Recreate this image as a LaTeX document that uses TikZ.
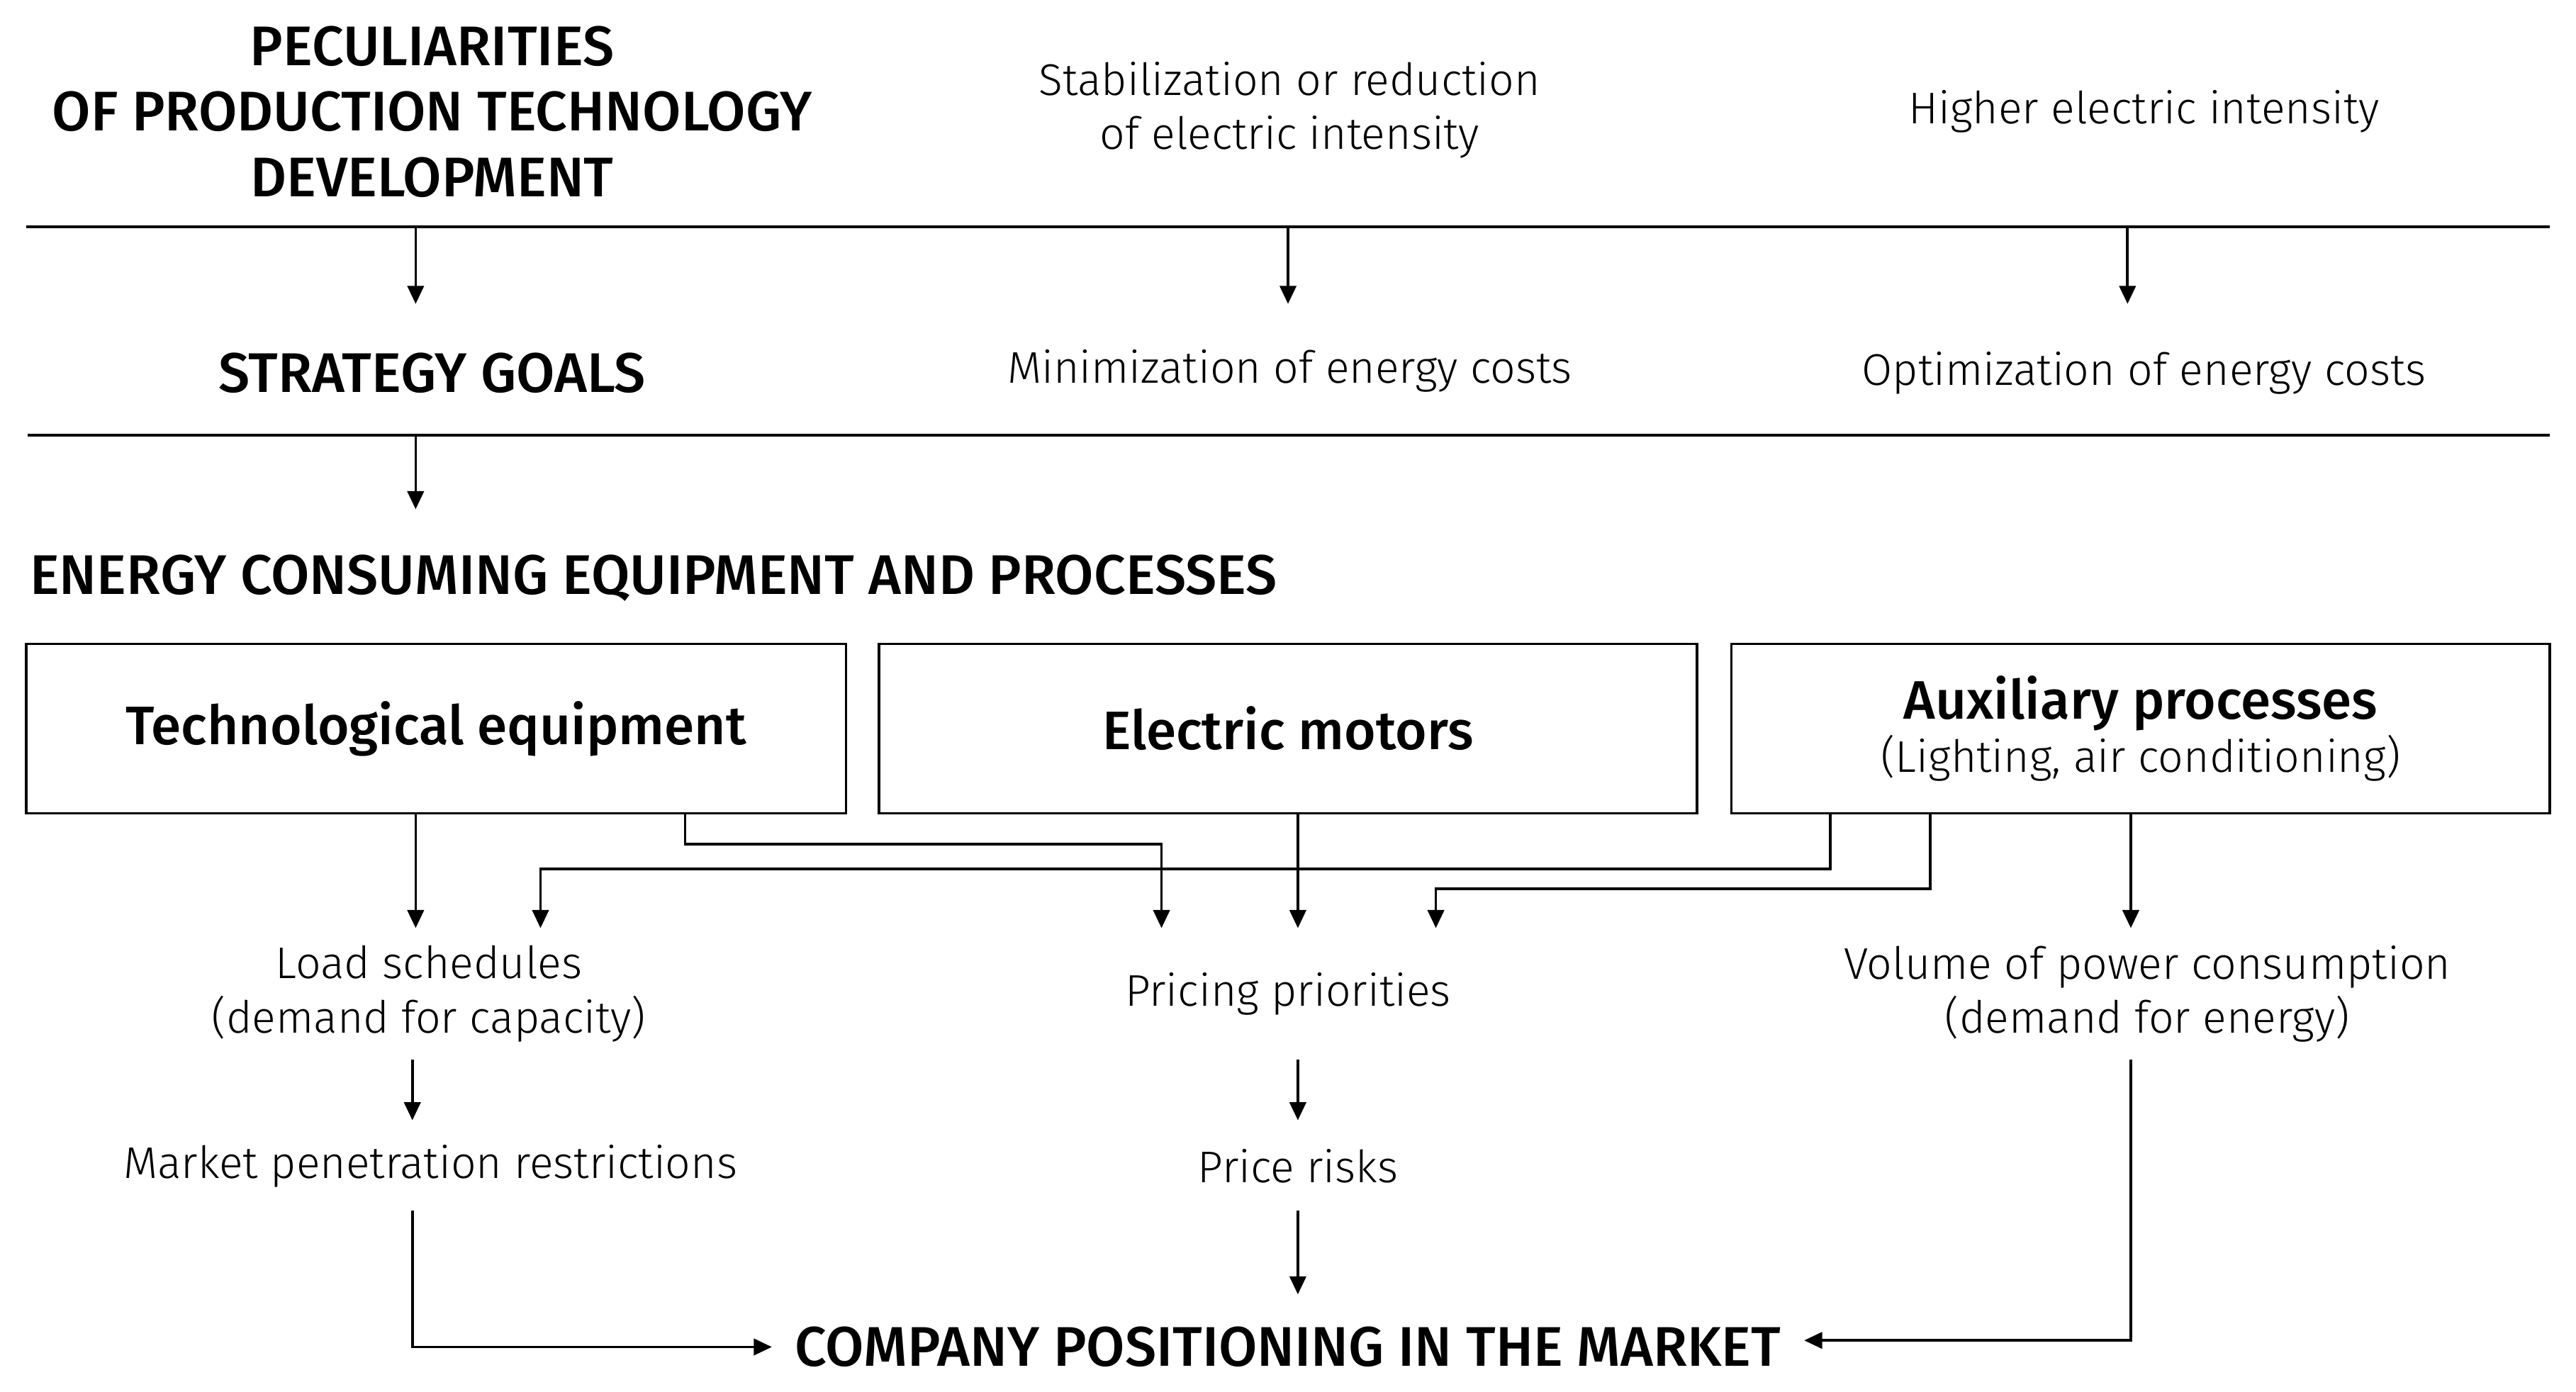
\documentclass[tikz,border=0pt]{standalone}
\usepackage{fontspec}
\setmainfont{Fira Sans Light}[BoldFont={Fira Sans Medium}]
\usetikzlibrary{arrows.meta}
\begin{document}
\begin{tikzpicture}[x=1pt,y=-1pt,
  ln/.style={line width=1.6pt},
  ar/.style={line width=1.6pt,-{Triangle[length=11pt,width=10pt]}},
  hd/.style={font=\fontsize{34}{40}\selectfont\bfseries,align=center,inner sep=0},
  tx/.style={font=\fontsize{27}{33}\selectfont,align=center,inner sep=0},
  bx/.style={draw,line width=1.4pt,inner sep=0,font=\fontsize{33}{36}\selectfont\bfseries,align=center}]
\useasboundingbox (0,0) rectangle (1568,847);
\node[hd] (h1) at (263,68) {PECULIARITIES\\OF PRODUCTION TECHNOLOGY\\DEVELOPMENT};
\node[tx] (h2) at (785,67) {Stabilization or reduction\\of electric intensity};
\node[tx] (h3) at (1305,68) {Higher electric intensity};
\draw[ln] (16,138) coordinate (l1a) -- (1552,138) coordinate (l1b);
\node[hd] (s1) at (263,227) {STRATEGY GOALS};
\node[tx] (s2) at (785,226) {Minimization of energy costs};
\node[tx] (s3) at (1305,227) {Optimization of energy costs};
\draw[ln] (17,265) -- (1552,265);
\coordinate (a1) at (253,138); \coordinate (a2) at (784,138); \coordinate (a3) at (1295,138);
\draw[ar] (a1) -- (253,185); \draw[ar] (a2) -- (784,185); \draw[ar] (a3) -- (1295,185);
\coordinate (a4) at (253,265); \draw[ar] (a4) -- (253,310);
\node[hd,anchor=west] (e) at (18,352) {ENERGY CONSUMING EQUIPMENT AND PROCESSES};
\node[bx,minimum width=499pt,minimum height=103pt] (b1) at (265.5,443.5) {Technological equipment};
\node[bx,minimum width=498pt,minimum height=103pt] (b2) at (784,443.5) {Electric motors};
\node[bx,minimum width=498pt,minimum height=103pt] (b3) at (1303,443.5) {Auxiliary processes\\[-4pt]{\mdseries\fontsize{27}{30}\selectfont (Lighting, air conditioning)}};
\node[tx] (t1) at (261,605) {Load schedules\\(demand for capacity)};
\node[tx] (t2) at (784,605) {Pricing priorities};
\node[tx] (t3) at (1307,605) {Volume of power consumption\\(demand for energy)};
\node[tx] (m1) at (262,710) {Market penetration restrictions};
\node[tx] (m2) at (790,710) {Price risks};
\node[hd,inner xsep=14pt] (c) at (784,820) {COMPANY POSITIONING IN THE MARKET};
\draw[ar] (b1.south -| 253,0) -- (253,565);
\draw[ar] (b1.south -| 417,0) -- (417,514) -- (707,514) -- (707,565);
\draw[ar] (b2.south -| 790,0) -- (790,565);
\draw[ar] (b3.south -| 1114,0) -- (1114,529) -- (329,529) -- (329,565);
\draw[ar] (b3.south -| 1175,0) -- (1175,541) -- (874,541) -- (874,565);
\draw[ar] (b3.south -| 1297,0) -- (1297,565);
\draw[ar] (251,645) -- (251,682);
\draw[ar] (790,645) -- (790,682);
\draw[ar] (251,737) -- (251,820) -- (c.west);
\draw[ar] (790,737) -- (790,788);
\draw[ar] (1297,645) -- (1297,816) -- (c.east |- 0,816);
\end{tikzpicture}
\end{document}
